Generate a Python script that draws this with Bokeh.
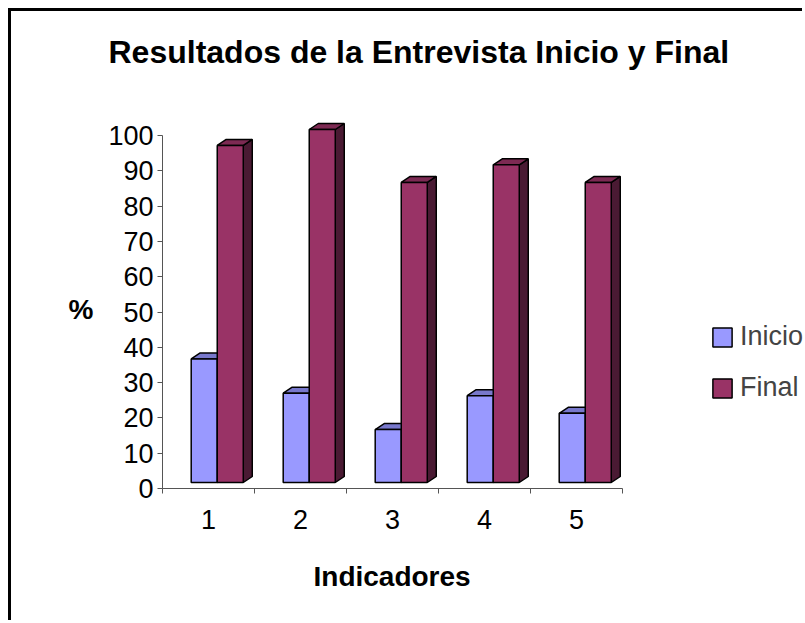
import numpy as np
from bokeh.plotting import figure
from bokeh.models import FixedTicker, Legend, LegendItem, Title
from bokeh.embed import file_html
from bokeh.resources import INLINE

# ---- data ----
categories = ["1", "2", "3", "4", "5"]
inicio = [35, 25.3, 15, 24.6, 19.6]
final = [95.5, 100, 85, 90, 85]
series_names = ["Inicio", "Final"]
y_ticks = [0, 10, 20, 30, 40, 50, 60, 70, 80, 90, 100]
title_text = "Resultados de la Entrevista Inicio y Final"
x_title = "Indicadores"
y_title = "%"

# ---- layout constants ----
FONT = "Liberation Sans"
PX_X = 92.0      # px per category
PX_Y = 3.53      # px per unit
W, H = 794, 612
LB, BB, TB = 151, 135, 63
n = len(categories)
x_end = (W - LB) / PX_X
y_end = (H - BB - TB) / PX_Y

p = figure(width=W, height=H, x_range=(0, x_end), y_range=(0, y_end),
           output_backend="svg", toolbar_location=None, title=None,
           min_border_left=LB, min_border_right=0, min_border_top=TB,
           min_border_bottom=BB)
p.outline_line_color = None
p.xgrid.visible = False
p.ygrid.visible = False
p.background_fill_color = "white"
p.border_fill_color = "white"
p.styles = {"margin-left": "8px", "margin-top": "8px",
            "border-left": "3px solid black", "border-top": "3px solid black"}

p.add_layout(Title(text=title_text, align="left", offset=-54, standoff=10,
                   text_font=FONT, text_font_size="32px", text_font_style="bold",
                   text_color="black"), "above")

AX = "#555555"
# y axis
yax = p.yaxis[0]
yax.ticker = FixedTicker(ticks=y_ticks, minor_ticks=[])
yax.bounds = (0, 100)
yax.axis_line_color = AX
yax.major_tick_line_color = AX
yax.major_tick_out = 5
yax.major_tick_in = 0
yax.major_label_standoff = 4
yax.major_label_text_font = FONT
yax.major_label_text_font_size = "27px"
yax.major_label_text_color = "black"
yax.axis_label = "\n" + y_title
yax.axis_label_orientation = "horizontal"
yax.axis_label_standoff = 12
yax.axis_label_text_font = FONT
yax.axis_label_text_font_size = "28px"
yax.axis_label_text_font_style = "bold"
yax.axis_label_text_color = "black"
yax.axis_label_text_line_height = 1.8

# x axis
idx = np.arange(n)
xax = p.xaxis[0]
xax.ticker = FixedTicker(ticks=list(idx + 0.5), minor_ticks=list(range(n + 1)))
xax.major_label_overrides = {float(i + 0.5): c for i, c in enumerate(categories)}
xax.bounds = (0, n)
xax.axis_line_color = AX
xax.major_tick_line_color = None
xax.major_tick_out = 0
xax.major_tick_in = 0
xax.minor_tick_line_color = AX
xax.minor_tick_out = 5
xax.minor_tick_in = 0
xax.major_label_standoff = 16
xax.major_label_text_font = FONT
xax.major_label_text_font_size = "27px"
xax.major_label_text_color = "black"

# x-axis title, centred under the category axis
p.add_layout(Title(text=x_title, align="left", offset=151, standoff=58,
                   vertical_align="top",
                   text_font=FONT, text_font_size="28px", text_font_style="bold",
                   text_color="black"), "below")

# ---- 3D bars ----
bw = 0.283
offs = [0.312, 0.312 + bw]
dx = 9 / PX_X
dy = 6 / PX_Y
base = 6 / PX_Y

styles = [
    dict(front="#9999FF", top="#7878CC", side="#4D4D80"),
    dict(front="#993366", top="#7D2A53", side="#4A1A33"),
]
front_renderers = []
for s, vals in enumerate([inicio, final]):
    vals = np.array(vals, dtype=float)
    left = idx + offs[s]
    right = left + bw
    top = base + vals
    side_xs = [[r, r + dx, r + dx, r] for r in right]
    side_ys = [[base, base + dy, t + dy, t] for t in top]
    top_xs = [[l, l + dx, r + dx, r] for l, r in zip(left, right)]
    top_ys = [[t, t + dy, t + dy, t] for t in top]
    st = styles[s]
    p.patches(side_xs, side_ys, fill_color=st["side"], line_color="black", line_width=1.5)
    p.patches(top_xs, top_ys, fill_color=st["top"], line_color="black", line_width=1.5)
    r = p.quad(left=left, right=right, bottom=base, top=top,
               fill_color=st["front"], line_color="black", line_width=1.5)
    front_renderers.append(r)

legend = Legend(items=[LegendItem(label=nm, renderers=[r]) for nm, r in zip(series_names, front_renderers)],
                location=(548, 85), glyph_width=24, glyph_height=24,
                label_text_font=FONT, label_text_font_size="27px",
                label_standoff=6, spacing=20, padding=0, margin=0,
                border_line_color=None, background_fill_alpha=0)
p.add_layout(legend, "center")

open("out.html", "w").write(file_html(p, INLINE))
